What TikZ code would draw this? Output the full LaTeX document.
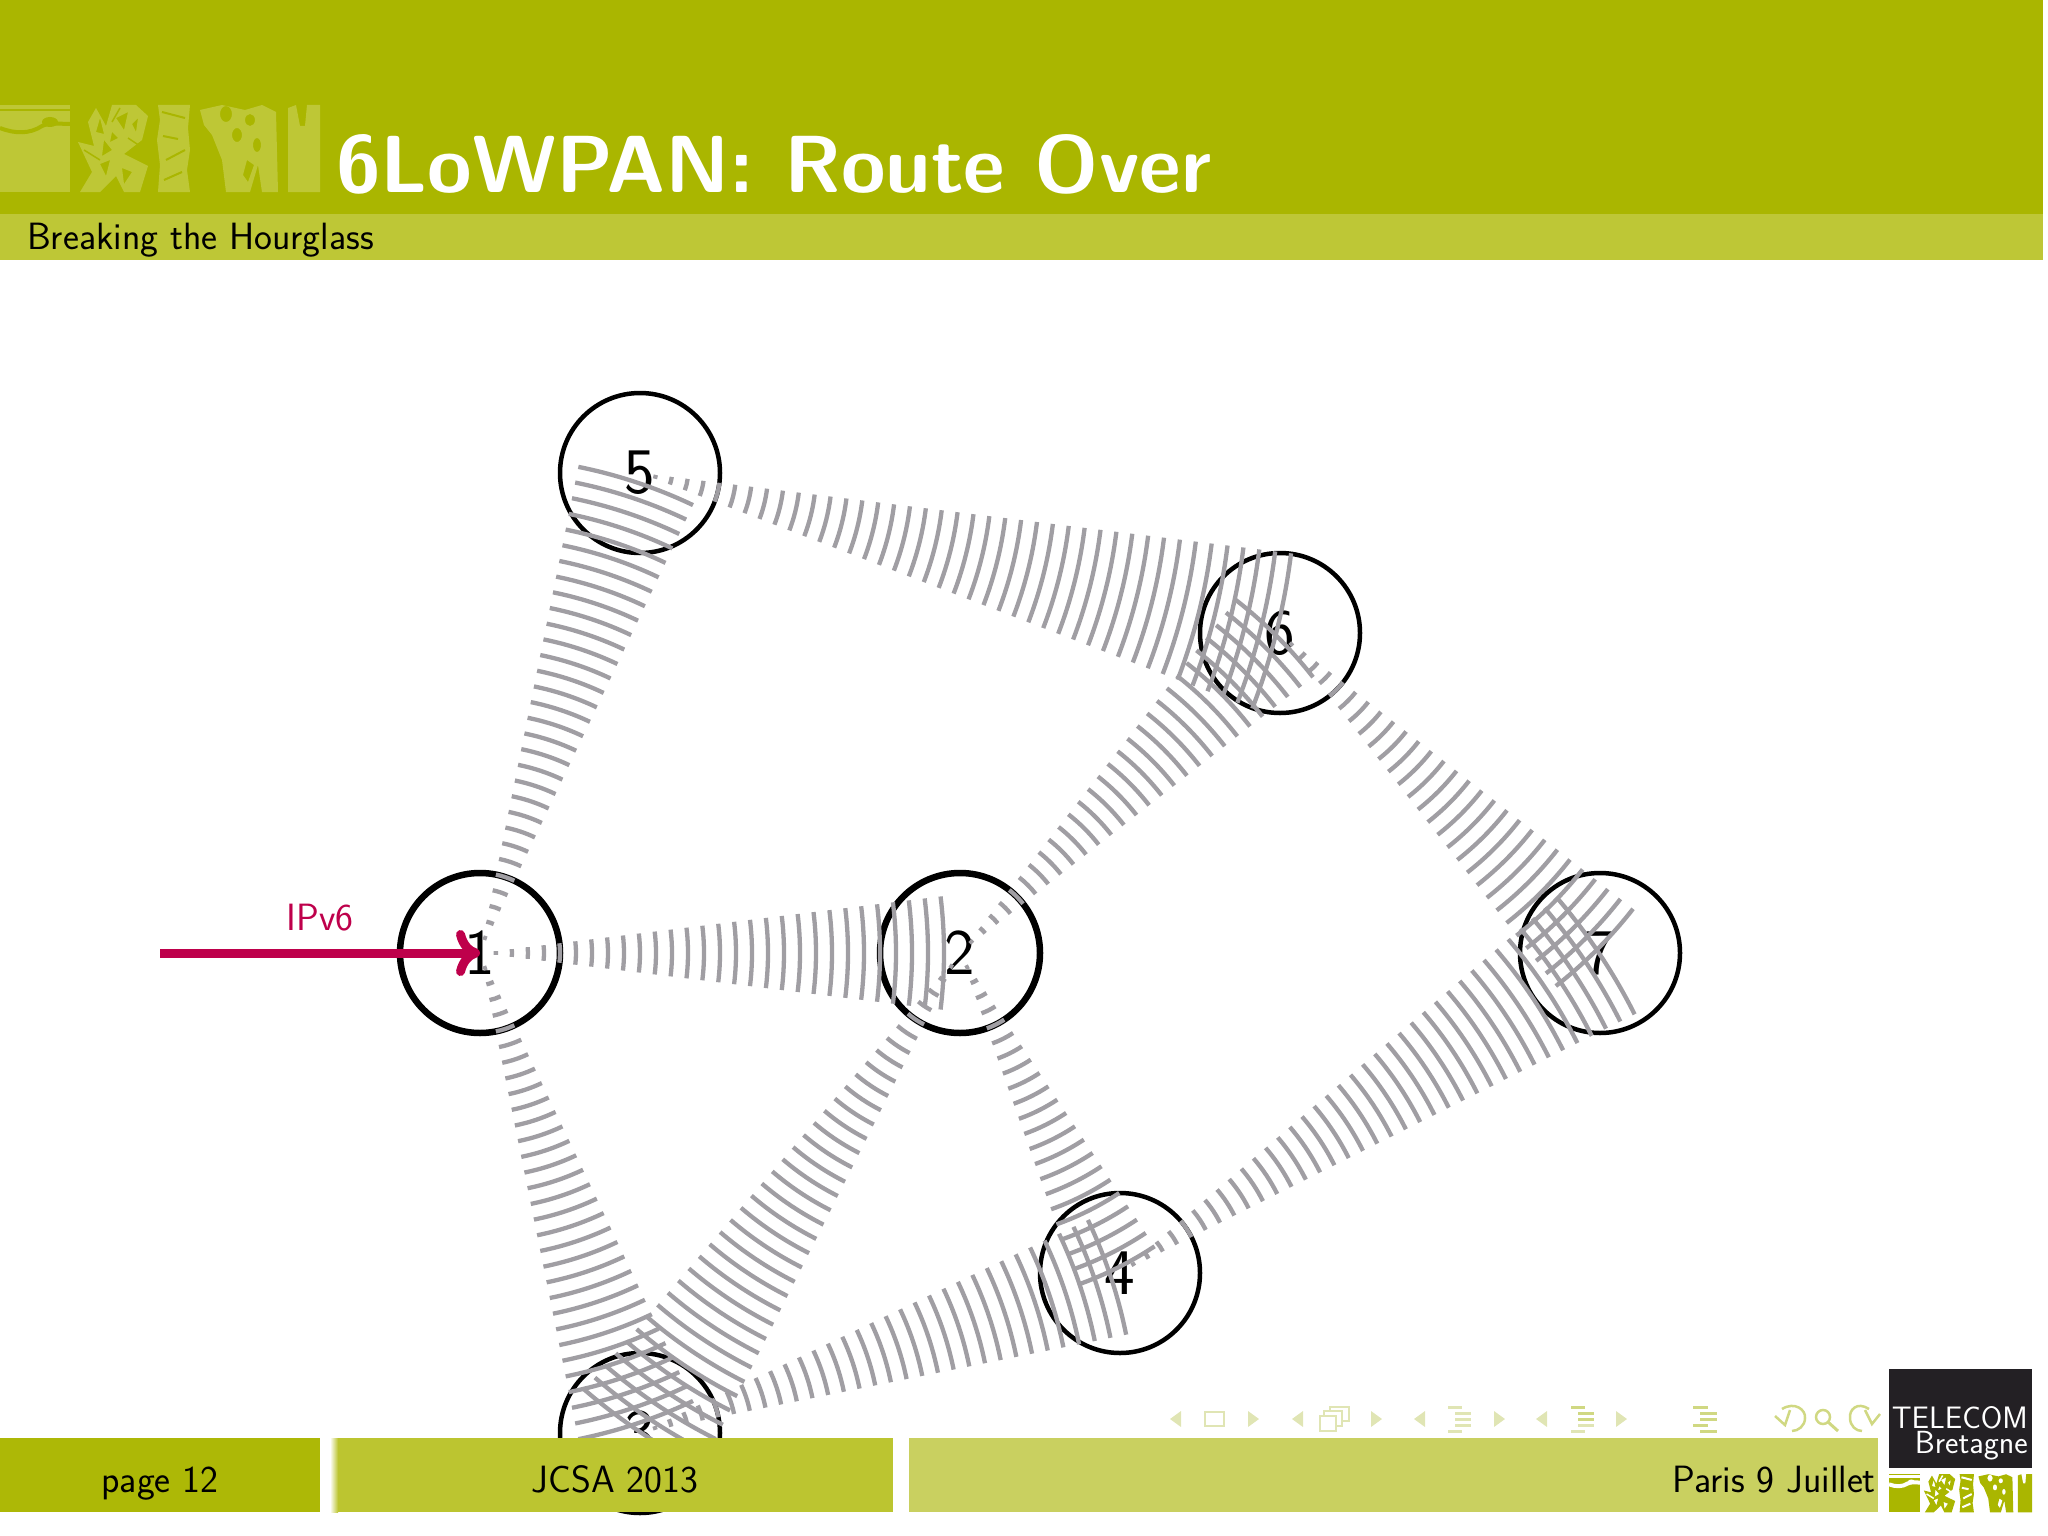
\documentclass[tikz,border=0pt]{standalone}
\usepackage{fontspec}
\usetikzlibrary{decorations.pathreplacing,arrows.meta}
\definecolor{hdr}{RGB}{170,182,0}
\definecolor{sub}{RGB}{190,199,54}
\definecolor{foota}{RGB}{173,184,6}
\definecolor{footb}{RGB}{188,197,48}
\definecolor{footc}{RGB}{201,208,96}
\definecolor{logolite}{RGB}{190,199,54}
\definecolor{wavegray}{RGB}{160,158,163}
\definecolor{ipv}{RGB}{190,0,75}
\definecolor{nav}{RGB}{224,229,180}
\definecolor{navb}{RGB}{208,216,130}
\definecolor{tbbox}{RGB}{35,32,36}
\newcommand{\sz}[1]{\fontsize{#1}{#1}\selectfont}
% logo drawn in header coordinates; #1 foreground, #2 background
\newcommand{\logoart}[2]{%
  \fill[#1] (0,105) rectangle (70,192);
  \draw[#2,line width=2.5pt] (0,110) -- (70,110);
  \draw[#2,line width=4pt] (0,128) .. controls (15,134) and (30,134) .. (42,126) .. controls (50,122) and (60,124) .. (70,124);
  \fill[#2] (50,122) ellipse (8 and 5);
  \fill[#1,even odd rule]
    (80,192)--(92,172)--(78,142)--(94,146)--(88,122)--(96,108)--(106,126)--(112,105)--(136,105)--(148,116)--(142,140)--(124,154)--(148,166)--(140,192)--(124,192)--(116,176)--(100,192)--cycle
    (116,118)--(128,112)--(124,130)--cycle
    (104,140)--(112,150)--(102,156)--cycle
    (122,168)--(132,172)--(124,184)--cycle
    (100,118)--(104,134)--(96,132)--cycle
    (132,124)--(138,118)--(136,132)--cycle
    (112,132)--(118,138)--(110,142)--cycle
    (100,164)--(110,160)--(106,176)--cycle;
  \draw[#2,line width=1.5pt] (84,150)--(100,160) (120,108)--(112,122) (140,146)--(128,138);
  \fill[#1] (158,105)--(190,105)--(188,128)--(190,150)--(187,170)--(190,192)--(158,192)--(160,165)--(157,140)--(160,120)--cycle;
  \draw[#2,line width=2pt] (162,112)--(185,118) (163,136)--(178,139) (166,160)--(185,150) (164,180)--(182,172);
  \fill[#1,even odd rule]
    (200,110)--(222,105)--(245,110)--(262,105)--(276,112)--(278,192)--(262,192)--(258,165)--(250,192)--(226,192)--(222,160)--(212,135)--(204,125)--cycle
    (226,114) ellipse (6 and 8)
    (250,120) ellipse (5 and 6)
    (237,135) ellipse (5 and 7)
    (257,145) ellipse (4 and 7)
    (247,160)--(254,165)--(248,182)--(243,175)--cycle;
  \fill[#1] (288,108)--(296,105)--(300,126)--(305,126)--(307,105)--(320,105)--(320,192)--(288,192)--cycle;
}
\tikzset{
  x=1pt,y=-1pt,
  mote/.style={circle,draw=black,line width=4.5pt,minimum size=160pt,inner sep=0pt,font=\sffamily\sz{65}},
  motethick/.style={mote,line width=6.5pt},
  wave/.style={draw=wavegray,line width=4.3pt,decorate,decoration={expanding waves,angle=7,segment length=16pt}},
  navicon/.style={draw=nav,line width=2.2pt},
  navtri/.style={fill=nav},
  navline/.style={draw=navb,line width=3pt},
  navlite/.style={draw=nav,line width=3pt},
  navundo/.style={draw=navb,line width=2.5pt},
  lab/.style={inner sep=0pt,font=\sffamily},
}
\begin{document}
\begin{tikzpicture}
\useasboundingbox (0,0) rectangle (2048,1536);
% header
\fill[hdr] (0,0) rectangle (2043,214);
\fill[sub] (0,214) rectangle (2043,260);
\logoart{logolite}{hdr}
\node[lab,anchor=base west,text=white,font=\sffamily\bfseries\sz{81}] (title) at (336,193) {6LoWPAN: Route Over};
\node[lab,anchor=base west,text=black,font=\sffamily\sz{38}] (subtitle) at (27,249) {Breaking the Hourglass};
% motes
\node[motethick] (n1) at (480,953) {1};
\node[motethick] (n2) at (960,953) {2};
\node[mote] (n3) at (640,1433) {3};
\node[mote] (n4) at (1120,1273) {4};
\node[mote] (n5) at (640,473) {5};
\node[mote] (n6) at (1280,633) {6};
\node[mote] (n7) at (1600,953) {7};
% radio waves
\foreach \a/\b in {n1/n5,n1/n2,n1/n3,n2/n6,n2/n3,n2/n4,n3/n4,n5/n6,n4/n7,n6/n7}
  \draw[wave] (\a.center) -- (\b.center);
% IPv6 arrow
\coordinate (src) at (160,953);
\draw[ipv,line width=9pt,-{Computer Modern Rightarrow[length=24pt,width=46pt,line cap=round]}] (src) -- (n1.center);
\node[lab,text=ipv,font=\sffamily\sz{38}] (ipvlab) at (320,918) {IPv6};
% footer
\fill[foota] (0,1438) rectangle (320,1512);
\shade[left color=white,right color=footb] (330,1438) rectangle (338,1512);
\fill[footb] (338,1438) rectangle (893,1512);
\fill[footc] (909,1438) rectangle (1878,1512);
\node[lab,anchor=base,text=black,font=\sffamily\sz{38}] (page) at (160,1492) {page 12};
\node[lab,anchor=base,text=black,font=\sffamily\sz{38}] (conf) at (615,1492) {JCSA 2013};
\node[lab,anchor=base east,text=black,font=\sffamily\sz{38}] (place) at (1876,1492) {Paris 9 Juillet};
% navigation symbols
\fill[navtri] (1170,1419)--(1181,1411)--(1181,1427)--cycle;
\draw[navicon] (1205,1412) rectangle (1224,1426);
\fill[navtri] (1259,1419)--(1248,1411)--(1248,1427)--cycle;
\fill[navtri] (1292,1419)--(1303,1411)--(1303,1427)--cycle;
\draw[navicon] (1320,1416) rectangle (1336,1431) (1324,1416)--(1324,1411)--(1342,1411)--(1342,1426)--(1336,1426) (1330,1411)--(1330,1407)--(1349,1407)--(1349,1421)--(1342,1421);
\fill[navtri] (1382,1419)--(1371,1411)--(1371,1427)--cycle;
\fill[navtri] (1414,1419)--(1425,1411)--(1425,1427)--cycle;
\draw[navlite] (1448,1407)--(1462,1407) (1455,1413)--(1471,1413) (1455,1419)--(1471,1419) (1455,1425)--(1471,1425) (1448,1431)--(1462,1431);
\fill[navtri] (1505,1419)--(1494,1411)--(1494,1427)--cycle;
\fill[navtri] (1536,1419)--(1547,1411)--(1547,1427)--cycle;
\draw[navline] (1571,1407)--(1585,1407) (1578,1413)--(1594,1413) (1578,1419)--(1594,1419);
\draw[navlite] (1578,1425)--(1594,1425) (1571,1431)--(1585,1431);
\fill[navtri] (1627,1419)--(1616,1411)--(1616,1427)--cycle;
\draw[navline] (1693,1407)--(1708,1407) (1700,1413)--(1717,1413) (1700,1419)--(1717,1419) (1693,1425)--(1708,1425) (1700,1431)--(1717,1431);
\draw[navundo] (1782,1409) .. controls (1795,1401) and (1806,1410) .. (1805,1418) .. controls (1805,1426) and (1798,1431) .. (1792,1431);
\draw[navundo] (1775,1416)--(1785,1425)--(1790,1410);
\draw[navundo] (1823,1417) circle (7);
\draw[navundo,line width=3pt] (1828,1422)--(1838,1431);
\draw[navundo] (1869,1409) .. controls (1857,1401) and (1849,1410) .. (1850,1418) .. controls (1850,1426) and (1856,1431) .. (1862,1431);
\draw[navundo] (1880,1414)--(1872,1424)--(1865,1410);
% Telecom Bretagne block
\fill[tbbox] (1889,1369) rectangle (2032,1468);
\node[lab,anchor=base east,text=white,font=\sffamily\sz{31}] (telecom) at (2028,1428) {TELECOM};
\node[lab,anchor=base east,text=white,font=\sffamily\sz{32}] (bret) at (2028,1453) {Bretagne};
\begin{scope}[shift={(1889,1428)},xscale=.447,yscale=.44]
\logoart{hdr}{white}
\end{scope}
\end{tikzpicture}
\end{document}
